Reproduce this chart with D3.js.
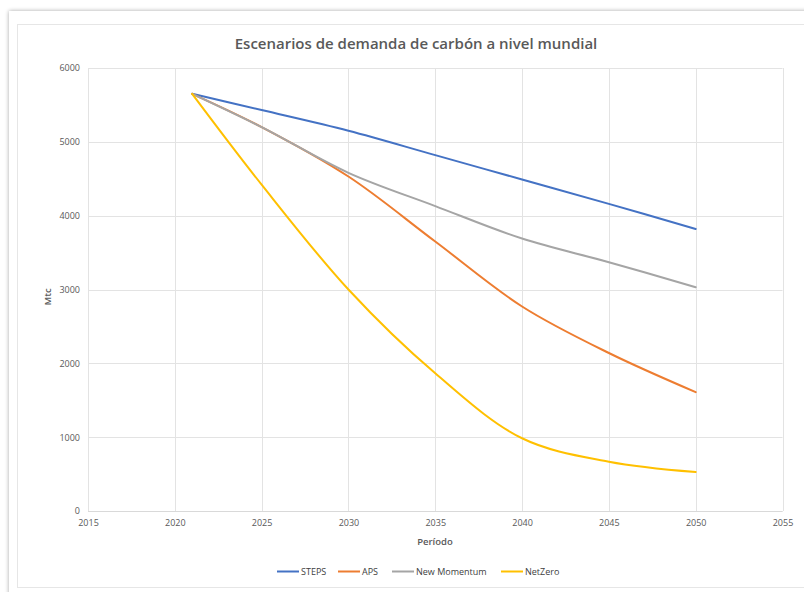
<!DOCTYPE html>
<html>
<head>
<meta charset="utf-8">
<script src="https://cdn.jsdelivr.net/npm/d3@7"></script>
<style>
  html, body { margin: 0; padding: 0; background: #fff; }
  svg { display: block; }
  text { font-family: "Open Sans", "Noto Sans", sans-serif; fill: #595959; }
</style>
</head>
<body>
<svg id="chart" width="804" height="592"></svg>
<script>
const years = [2021, 2025, 2030, 2035, 2040, 2045, 2050];
const steps = [5650, 5430, 5150, 4820, 4490, 4160, 3820];
const aps = [5650, 5200, 4530, 3650, 2770, 2140, 1610];
const newMomentum = [5650, 5200, 4580, 4130, 3690, 3370, 3030];
const netZero = [5650, 4420, 3000, 1865, 985, 668, 528];
const seriesNames = ["STEPS", "APS", "New Momentum", "NetZero"];
const seriesColors = ["#4472C4", "#ED7D31", "#A5A5A5", "#FFC000"];
const xTicks = [2015, 2020, 2025, 2030, 2035, 2040, 2045, 2050, 2055];
const yTicks = [0, 1000, 2000, 3000, 4000, 5000, 6000];

const svg = d3.select("#chart");

// frame with shadow
const defs = svg.append("defs");
const f = defs.append("filter").attr("id", "sh").attr("x", "-5%").attr("y", "-5%").attr("width", "110%").attr("height", "110%");
f.append("feGaussianBlur").attr("in", "SourceAlpha").attr("stdDeviation", 2);
f.append("feOffset").attr("dx", 0).attr("dy", 0).attr("result", "b");
f.append("feComponentTransfer").append("feFuncA").attr("type", "linear").attr("slope", 0.35);
const fm = f.append("feMerge");
fm.append("feMergeNode");
fm.append("feMergeNode").attr("in", "SourceGraphic");

svg.append("rect").attr("x", 9).attr("y", 11).attr("width", 820).attr("height", 600)
  .attr("fill", "#fff").attr("filter", "url(#sh)");
svg.append("rect").attr("x", 17.5).attr("y", 24.5).attr("width", 800).attr("height", 563)
  .attr("fill", "#fff").attr("stroke", "#e6e6e6").attr("stroke-width", 1);

const x = d3.scaleLinear().domain([2015, 2055]).range([88, 782.5]);
const y = d3.scaleLinear().domain([0, 6000]).range([511, 68]);

// gridlines
const g = svg.append("g");
g.selectAll(".hg").data(yTicks).enter().append("line")
  .attr("x1", x(2015)).attr("x2", x(2055))
  .attr("y1", d => Math.round(y(d)) + 0.5).attr("y2", d => Math.round(y(d)) + 0.5)
  .attr("stroke", "#e3e3e3").attr("stroke-width", 1);
g.selectAll(".vg").data(xTicks).enter().append("line")
  .attr("x1", d => Math.round(x(d)) + 0.5).attr("x2", d => Math.round(x(d)) + 0.5)
  .attr("y1", y(6000)).attr("y2", y(0))
  .attr("stroke", "#e3e3e3").attr("stroke-width", 1);
svg.append("line").attr("x1", x(2015)).attr("x2", x(2055))
  .attr("y1", Math.round(y(0)) + 0.5).attr("y2", Math.round(y(0)) + 0.5)
  .attr("stroke", "#d9d9d9").attr("stroke-width", 1);

// axes tick labels via d3 axes
const yAxis = d3.axisLeft(y).tickValues(yTicks).tickSize(0).tickPadding(8).tickFormat(d3.format("d"));
const yg = svg.append("g").attr("transform", `translate(${x(2015)},0)`).call(yAxis);
yg.select(".domain").remove();
yg.selectAll("text").style("font-size", "9px").attr("fill", "#404040").style("font-family", "'Open Sans', sans-serif");

const xAxis = d3.axisBottom(x).tickValues(xTicks).tickSize(0).tickPadding(9).tickFormat(d3.format("d"));
const xg = svg.append("g").attr("transform", `translate(0,${y(0)})`).call(xAxis);
xg.select(".domain").remove();
xg.selectAll("text").style("font-size", "9px").attr("fill", "#404040").style("font-family", "'Open Sans', sans-serif");

// lines
const allSeries = [steps, aps, newMomentum, netZero];
const line = d3.line().x((d, i) => x(years[i])).y(d => y(d)).curve(d3.curveCatmullRom.alpha(0.5));
allSeries.forEach((s, k) => {
  svg.append("path").datum(s).attr("d", line)
    .attr("fill", "none").attr("stroke", seriesColors[k]).attr("stroke-width", 2)
    .attr("stroke-linejoin", "round").attr("stroke-linecap", "round");
});

// title
svg.append("text").attr("x", 416).attr("y", 49).attr("text-anchor", "middle")
  .style("font-size", "15px").style("font-weight", 600).text("Escenarios de demanda de carbón a nivel mundial");

// axis titles
svg.append("text").attr("x", 435).attr("y", 545).attr("text-anchor", "middle")
  .style("font-size", "9.5px").style("font-weight", 600).text("Período");
svg.append("text").attr("transform", "translate(51,297) rotate(-90)").attr("text-anchor", "middle")
  .style("font-size", "9.5px").style("font-weight", 600).text("Mtc");

// legend
const legendX = [277, 338, 392, 501];
seriesNames.forEach((n, k) => {
  const lg = svg.append("g").attr("transform", `translate(${legendX[k]},571)`);
  lg.append("line").attr("x1", 0).attr("x2", 22).attr("y1", 0.5).attr("y2", 0.5)
    .attr("stroke", seriesColors[k]).attr("stroke-width", 2);
  lg.append("text").attr("x", 24).attr("y", 3.5).style("font-size", "9px").attr("fill", "#404040").style("fill", "#404040").text(n);
});
</script>
</body>
</html>
